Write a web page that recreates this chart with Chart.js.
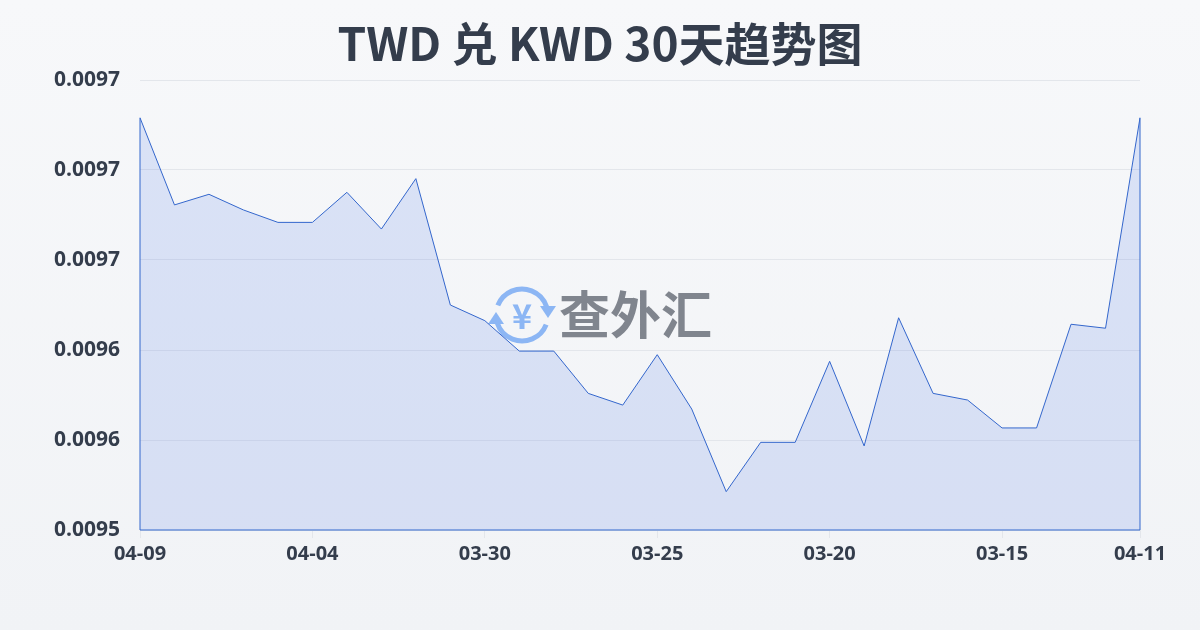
<!DOCTYPE html>
<html>
<head>
<meta charset="utf-8">
<script src="https://cdn.jsdelivr.net/npm/chart.js@4"></script>
<style>
  html, body { margin: 0; padding: 0; }
  body {
    width: 1200px; height: 630px;
    background: linear-gradient(180deg, #f7f8fa 0%, #f1f3f6 100%);
  }
  #wrap { position: relative; width: 1200px; height: 630px; }
</style>
</head>
<body>
<div id="wrap"><canvas id="rateChart" width="1200" height="630"></canvas></div>
<script>
const titleText = "TWD 兑 KWD 30天趋势图";

const dates = [
  "04-09", "04-08", "04-07", "04-06", "04-05", "04-04", "04-03", "04-02", "04-01", "03-31",
  "03-30", "03-29", "03-28", "03-27", "03-26", "03-25", "03-24", "03-23", "03-22", "03-21",
  "03-20", "03-19", "03-18", "03-17", "03-16", "03-15", "03-14", "03-13", "03-12", "04-11",
];

const rates = [
  0.009729, 0.0096806, 0.0096865, 0.0096778, 0.0096709, 0.0096709, 0.0096876, 0.0096672, 0.0096952, 0.009625,
  0.0096163, 0.0095994, 0.0095994, 0.0095759, 0.0095694, 0.0095974, 0.0095672, 0.0095213, 0.0095487, 0.0095487,
  0.0095937, 0.0095467, 0.0096179, 0.0095759, 0.0095722, 0.0095567, 0.0095567, 0.0096143, 0.0096121, 0.009729,
];

const yMin = 0.0095;
const yMax = 0.00975;
const yStep = 0.00005;
const yTickLabels = ["0.0095", "0.0096", "0.0096", "0.0097", "0.0097", "0.0097"];

const lineColor = "#3366cc";
const textColor = "#343d4c";

// title + watermark drawn on the canvas
const decorPlugin = {
  id: "decor",
  beforeDatasetsDraw(chart) {
    const { ctx, chartArea } = chart;
    const cx = chart.width / 2;
    const cy = (chartArea.top + chartArea.bottom) / 2 + 10;
    ctx.save();
    // icon
    const ix = cx - 78, r = 26;
    ctx.strokeStyle = "#8cb6f4";
    ctx.fillStyle = "#8cb6f4";
    ctx.lineWidth = 5;
    ctx.beginPath();
    ctx.arc(ix, cy, r, Math.PI * 1.12, Math.PI * 1.9);
    ctx.stroke();
    ctx.beginPath();
    ctx.arc(ix, cy, r, Math.PI * 0.12, Math.PI * 0.9);
    ctx.stroke();
    // arrow heads
    ctx.beginPath();
    ctx.moveTo(ix + r - 8, cy - 9);
    ctx.lineTo(ix + r + 8, cy - 9);
    ctx.lineTo(ix + r, cy + 3);
    ctx.closePath();
    ctx.fill();
    ctx.beginPath();
    ctx.moveTo(ix - r - 8, cy + 9);
    ctx.lineTo(ix - r + 8, cy + 9);
    ctx.lineTo(ix - r, cy - 3);
    ctx.closePath();
    ctx.fill();
    ctx.font = "bold 34px 'Noto Sans CJK SC', sans-serif";
    ctx.textAlign = "center";
    ctx.textBaseline = "middle";
    ctx.fillText("¥", ix, cy + 1);
    // text
    ctx.fillStyle = "#80858e";
    ctx.font = "bold 51px 'Noto Sans CJK SC', sans-serif";
    ctx.textAlign = "left";
    ctx.fillText("查外汇", cx - 41, cy);
    ctx.restore();
  },
  afterDatasetsDraw(chart) {
    // close the area outline down to the axis
    const pts = chart.getDatasetMeta(0).data;
    if (!pts.length) return;
    const first = pts[0], last = pts[pts.length - 1];
    const bottom = chart.chartArea.bottom;
    const ctx = chart.ctx;
    ctx.save();
    ctx.strokeStyle = lineColor;
    ctx.lineWidth = 1;
    ctx.beginPath();
    ctx.moveTo(first.x, first.y);
    ctx.lineTo(first.x, bottom);
    ctx.lineTo(last.x, bottom);
    ctx.lineTo(last.x, last.y);
    ctx.stroke();
    ctx.restore();
  },
  afterDraw(chart) {
    const ctx = chart.ctx;
    ctx.save();
    ctx.fillStyle = textColor;
    ctx.font = "bold 46px 'Noto Sans CJK SC', sans-serif";
    ctx.textAlign = "center";
    ctx.textBaseline = "middle";
    ctx.fillText(titleText, chart.width / 2, 44);
    ctx.restore();
  },
};

new Chart(document.getElementById("rateChart"), {
  type: "line",
  plugins: [decorPlugin],
  data: {
    labels: dates,
    datasets: [
      {
        data: rates,
        borderColor: lineColor,
        borderWidth: 1,
        backgroundColor: "rgba(58, 110, 225, 0.15)",
        fill: "start",
        pointRadius: 0,
        tension: 0,
      },
    ],
  },
  options: {
    responsive: false,
    animation: false,
    layout: { padding: { top: 80, right: 60, bottom: 0, left: 0 } },
    plugins: {
      legend: { display: false },
      tooltip: { enabled: false },
    },
    scales: {
      x: {
        offset: false,
        grid: { drawOnChartArea: false, drawTicks: true, tickLength: 8, color: "#e3e6eb" },
        border: { display: false },
        ticks: {
          autoSkip: false,
          maxRotation: 0,
          padding: 4,
          color: textColor,
          font: { family: "'Open Sans', sans-serif", size: 20, weight: "bold" },
          callback: (v, i) => (i % 5 === 0 || i === dates.length - 1 ? dates[i] : null),
        },
        afterFit: (scale) => { scale.height = 100; },
      },
      y: {
        min: yMin,
        max: yMax,
        grid: { color: "#e3e6eb", drawTicks: false },
        border: { display: false },
        ticks: {
          stepSize: yStep,
          padding: 20,
          color: textColor,
          font: { family: "'Open Sans', sans-serif", size: 21, weight: "bold" },
          callback: (v, i) => yTickLabels[i],
        },
        afterFit: (scale) => { scale.width = 140; },
      },
    },
  },
});
</script>
</body>
</html>
